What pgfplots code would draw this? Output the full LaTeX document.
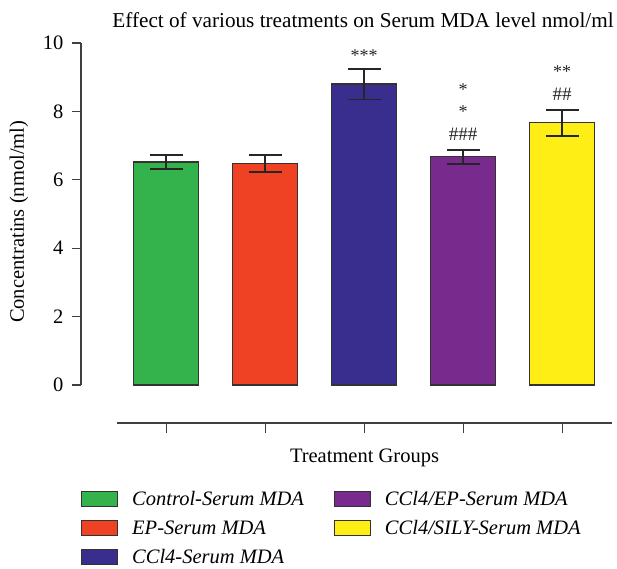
\documentclass[border=0pt]{standalone}
\usepackage{pgfplots}
\pgfplotsset{compat=1.18}
\usepackage{fontspec}
\setmainfont{Liberation Serif}
\definecolor{cgreen}{RGB}{52,178,76}
\definecolor{cred}{RGB}{239,65,35}
\definecolor{cblue}{RGB}{57,46,142}
\definecolor{cpurple}{RGB}{120,42,141}
\definecolor{cyellow}{RGB}{255,237,22}
\newcommand{\fs}{\fontsize{20.5}{24}\selectfont}
\pgfplotsset{
  mybar/.style={ybar, bar width=0.66, bar shift=0pt, draw=black!80, line width=1.2pt,
    /pgfplots/error bars/y dir=both, /pgfplots/error bars/y explicit,
    /pgfplots/error bars/error bar style={line width=1.8pt, black!85},
    /pgfplots/error bars/error mark options={rotate=90, mark size=16.5pt, line width=1.8pt, black!85}},
}
\begin{document}
\begin{tikzpicture}[x=1pt,y=1pt]
\begin{axis}[
  at={(0,0)}, anchor=south west, scale only axis,
  width=530.5pt, height=342pt,
  xmin=-0.859, xmax=4.5, ymin=0, ymax=10,
  axis x line=none, axis y line=left,
  axis line style={-, black!75, line width=1.2pt},
  ytick={0,2,...,10}, tick align=outside, major tick length=9pt,
  every tick/.style={black!75, line width=1.2pt},
  yticklabel style={font=\fs, /pgf/number format/assume math mode=true, xshift=-5pt},
  ylabel={Concentratins (nmol/ml)},
  ylabel style={font=\fs, at={(axis description cs:-0.117,0.477)}, anchor=center},
  title={Effect of various treatments on Serum MDA level nmol/ml},
  title style={font=\fontsize{21.2}{24}\selectfont, at={(axis description cs:0.5316,1)}, anchor=base, yshift=9pt},
  clip=false,
  legend columns=2,
  legend cell align=left,
  legend image code/.code={\draw[#1, draw=black!80, line width=1pt] (0pt,-7.5pt) rectangle (36pt,7.5pt);},
  legend style={at={(axis description cs:0,-0.304)}, anchor=north west, draw=none, fill=none,
    font=\fs\itshape, inner sep=0pt, row sep=9.5pt,
    /tikz/every odd column/.append style={column sep=12pt},
    /tikz/every even column/.append style={column sep=28pt}},
]
\addplot[fill=cgreen, mybar] coordinates {(0,6.52) +- (0,0.21)};
\addlegendentry{Control-Serum MDA}
\addplot[fill=cpurple, mybar] coordinates {(3,6.67) +- (0,0.20)};
\addlegendentry{CCl4/EP-Serum MDA}
\addplot[fill=cred, mybar] coordinates {(1,6.48) +- (0,0.25)};
\addlegendentry{EP-Serum MDA}
\addplot[fill=cyellow, mybar] coordinates {(4,7.67) +- (0,0.38)};
\addlegendentry{CCl4/SILY-Serum MDA}
\addplot[fill=cblue, mybar] coordinates {(2,8.80) +- (0,0.45)};
\addlegendentry{CCl4-Serum MDA}
\node[font=\fontsize{18}{20}\selectfont, anchor=base, black!85] at (axis cs:2,9.46) {***};
\node[font=\fontsize{18}{20}\selectfont, anchor=base, black!85] at (axis cs:3,8.46) {*};
\node[font=\fontsize{18}{20}\selectfont, anchor=base, black!85] at (axis cs:3,7.82) {*};
\node[font=\fontsize{19}{20}\selectfont, anchor=base, black!85] at (axis cs:3,7.16) {\#\#\#};
\node[font=\fontsize{18}{20}\selectfont, anchor=base, black!85] at (axis cs:4,8.99) {**};
\node[font=\fontsize{19}{20}\selectfont, anchor=base, black!85] at (axis cs:4,8.31) {\#\#};
\end{axis}
\begin{axis}[
  at={(36pt,-38pt)}, anchor=south west, scale only axis,
  width=495pt, height=20pt,
  xmin=-0.5, xmax=4.5, ymin=0, ymax=1,
  axis y line=none, axis x line=bottom,
  axis line style={-, black!75, line width=1.2pt},
  xtick={0,1,2,3,4}, xticklabel={\mbox{}}, tick align=outside, major tick length=10pt,
  every tick/.style={black!75, line width=1.2pt},
  xlabel={Treatment Groups},
  xlabel style={font=\fs, at={(axis description cs:0.5,0)}, anchor=base, yshift=-39pt},
]
\end{axis}
\pgfresetboundingbox
\path[use as bounding box] (-81,-183) rectangle (536,385);
\end{tikzpicture}
\end{document}
